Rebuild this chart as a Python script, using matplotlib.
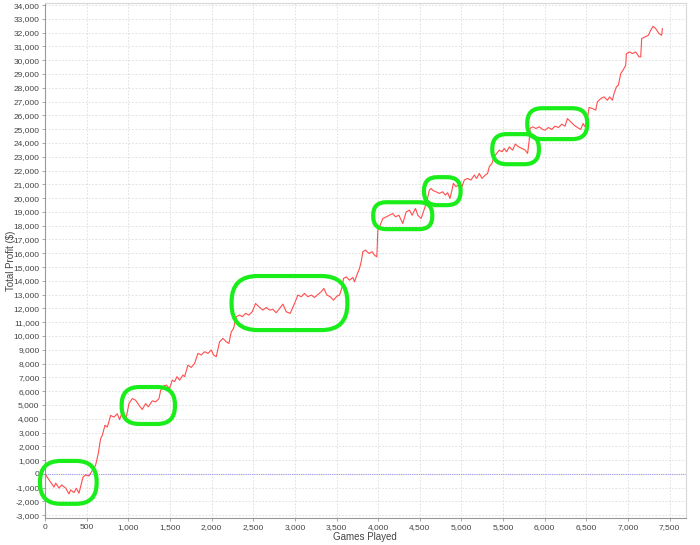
import matplotlib
matplotlib.use("Agg")
import matplotlib.pyplot as plt
from matplotlib.patches import FancyBboxPatch
from matplotlib.ticker import FuncFormatter, MultipleLocator

plt.rcParams["font.family"] = ["Liberation Sans", "DejaVu Sans"]

# cumulative profit
games = [0, 48, 108, 128, 168, 200, 248, 288, 308, 348, 376, 408, 428, 456, 488, 528,
         560, 588, 608, 640, 668, 688, 720, 748, 788, 828, 868, 896, 928, 948, 976,
         1008, 1048, 1088, 1128, 1168, 1208, 1240, 1288, 1328, 1368, 1388, 1428,
         1456, 1496, 1528, 1556, 1584, 1616, 1656, 1676, 1716, 1756, 1796, 1836, 1876,
         1916, 1956, 1996, 2024, 2056, 2096, 2136, 2176, 2208, 2236, 2264, 2296, 2336,
         2368, 2408, 2448, 2488, 2528, 2568, 2616, 2656, 2696, 2736, 2776, 2816, 2856,
         2896, 2944, 2996,
         3036, 3076, 3116, 3156, 3196, 3236, 3276, 3316, 3348, 3384, 3424, 3464, 3504,
         3536, 3568, 3584, 3616, 3656, 3696, 3716, 3744, 3776, 3796, 3816, 3848, 3888,
         3928, 3956, 3984, 3996, 4016, 4056, 4096, 4136, 4176, 4208, 4248, 4296, 4336,
         4376, 4408, 4448, 4476, 4516, 4556, 4584,
         4614, 4634, 4662, 4694, 4734, 4774, 4806, 4834, 4862, 4886, 4902, 4934, 4966,
         5006, 5034, 5074, 5114, 5154, 5182, 5214, 5246, 5286, 5314, 5334, 5366, 5394,
         5422, 5454, 5486, 5514, 5542, 5574, 5614, 5646, 5686, 5726, 5766, 5794, 5814,
         5822, 5854, 5894, 5934, 5974,
         6004, 6044, 6084, 6124, 6164, 6204, 6244, 6272, 6312, 6352, 6392, 6432, 6460,
         6484, 6512, 6532, 6572, 6612, 6632, 6672, 6712, 6752, 6780, 6812, 6832, 6860,
         6884, 6912, 6940, 6972, 6980, 7020, 7052, 7092, 7132, 7152, 7164, 7204, 7244,
         7272, 7300, 7332, 7372, 7404, 7412]
profit = [0, -430, -960, -670, -1030, -800, -1030, -1450, -1160, -1350, -1040, -1400, -920,
          -240, -70, -150, 170, 400, 650, 1500, 2570, 2800, 3530, 3400, 4240, 4120, 4360,
          3930, 4500, 4120, 4120, 5100, 5460, 5340, 4980, 4670, 5100, 4870, 5300, 5220,
          5460, 6050, 6400,
          6440, 6200, 6800, 6690, 7050, 6800, 7170, 7050, 7890, 7720, 8010, 8740, 8620,
          8860, 8740, 8980, 8620, 8500, 9580, 9830, 9580, 9460, 10300, 10550, 11400, 11520,
          11400, 11640, 11520, 11760, 12360, 12120, 11880, 12070, 11880, 11930, 11690,
          12000, 12310, 11760, 11640, 12360,
          12970, 12850, 13090, 12850, 12970, 12800, 13010, 13210, 13450, 12970, 12850,
          12600, 12890, 12970, 13570, 14170, 14290, 14050, 14250, 13930, 14420, 14900,
          15380, 16110, 16230, 15990, 16110, 15860, 15740, 17680, 17920, 18520, 18640,
          18760, 18880, 18640, 18760, 18160, 19000, 19130, 18760, 19250, 18760, 18520,
          19250, 19740,
          20580, 20700, 20540, 20460, 20340, 20460, 20220, 20390, 19980, 20580, 21070,
          20830, 20950, 20830, 21310, 21430, 21310, 21670, 21430, 21790, 21430, 21670,
          21790, 22280, 22520, 23000, 23240, 23480, 23360, 23600, 23360, 23720, 23480,
          23920, 23720, 23600, 23480, 23240, 24210, 25050, 25170, 25050, 25170, 24980,
          24930, 25120, 24980, 25220, 25120, 25360, 25220, 25770, 25530, 25290, 25120,
          24980, 25410, 25170, 25770, 26570, 26500, 26380, 26980, 27220, 27340, 27100,
          27340, 27100, 27580, 28070, 28190, 29030, 29280, 29640, 30480, 30600, 30480,
          30600, 30240, 30240, 31570, 31690, 31810, 32170, 32460, 32290, 31930, 31810,
          32290]

# hand-drawn green marks: (x0, x1, y0, y1) in data units
marks = [(-60, 620, -2170, 940),
         (920, 1560, 3620, 6300),
         (2240, 3630, 10430, 14350),
         (3940, 4650, 17750, 19700),
         (4550, 4990, 19490, 21520),
         (5370, 5930, 22460, 24640),
         (5790, 6510, 24280, 26520)]

fig = plt.figure(figsize=(7, 5.45), dpi=100)
ax = fig.add_axes([0.0643, 0.0495, 0.915, 0.945])

ax.plot(games, profit, color="#ff4d4d", lw=0.8, zorder=3)
ax.axhline(0, color="#9c9cf0", lw=0.8, ls=(0, (1, 1)), zorder=2)

aspect = 72.5 / 12.0
for x0, x1, y0, y1 in marks:
    w, h = x1 - x0, y1 - y0
    r = min(w, h / aspect) * 0.48
    box = FancyBboxPatch((x0, y0), w, h,
                         boxstyle="round,pad=0,rounding_size=%f" % r,
                         mutation_aspect=aspect, fill=False,
                         ec="#1aee1a", lw=3.0, zorder=4, clip_on=False)
    ax.add_patch(box)

ax.set_xlim(0, 7690)
ax.set_ylim(-3200, 34150)
ax.xaxis.set_major_locator(MultipleLocator(500))
ax.yaxis.set_major_locator(MultipleLocator(1000))
fmt = FuncFormatter(lambda v, p: "{:,.0f}".format(v))
ax.xaxis.set_major_formatter(fmt)
ax.yaxis.set_major_formatter(fmt)

ax.grid(True, color="#dcdcdc", lw=0.6, ls=(0, (2, 2)))
ax.set_axisbelow(True)
for s in ["top", "right"]:
    ax.spines[s].set_color("#d8d8d8")
for s in ["left", "bottom"]:
    ax.spines[s].set_color("#999999")
ax.tick_params(labelsize=6, colors="#444444", length=2, width=0.6, pad=2)
ax.tick_params(color="#999999")

ax.set_xlabel("Games Played", fontsize=7, color="#444444", labelpad=1)
ax.set_ylabel("Total Profit ($)", fontsize=7, color="#444444")
ax.yaxis.set_label_coords(-0.046, 0.5)

fig.savefig("out.png", dpi=100)
